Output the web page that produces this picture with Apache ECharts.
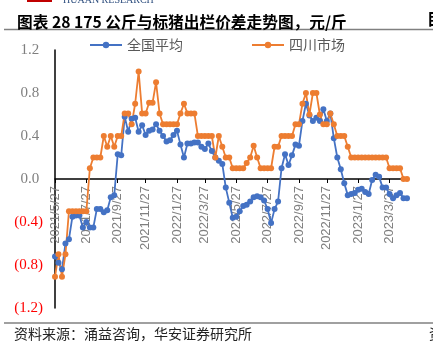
<!DOCTYPE html>
<html>
<head>
<meta charset="utf-8">
<script src="https://cdn.jsdelivr.net/npm/echarts@6/dist/echarts.min.js"></script>
<style>
  html, body { margin: 0; padding: 0; background: #fff; }
  #main { width: 433px; height: 352px; }
</style>
</head>
<body>
<div id="main"></div>
<script>
// 起始日期（周度数据）
var startDate = [2021, 4, 27];
// x轴刻度标签
var tickDates = ['2021/5/27', '2021/7/27', '2021/9/27', '2021/11/27', '2022/1/27', '2022/3/27',
  '2022/5/27', '2022/7/27', '2022/9/27', '2022/11/27', '2023/1/27', '2023/3/27'];
// 全国平均
var nationalAvg = [
  -0.72, -0.78, -0.84, -0.60, -0.56, -0.35, -0.34, -0.34, -0.45, -0.40,
  -0.45, -0.45, -0.28, -0.28, -0.31, -0.29, -0.17, -0.15, 0.23, 0.22,
  0.58, 0.44, 0.56, 0.57, 0.44, 0.50, 0.41, 0.45, 0.46, 0.51,
  0.45, 0.40, 0.35, 0.36, 0.41, 0.45, 0.32, 0.20, 0.33, 0.33,
  0.34, 0.34, 0.30, 0.28, 0.33, 0.26, 0.20, 0.17, 0.14, -0.08,
  -0.22, -0.36, -0.35, -0.30, -0.25, -0.24, -0.21, -0.17, -0.16, -0.17,
  -0.20, -0.28, -0.41, -0.28, -0.21, 0.10, 0.23, 0.13, 0.22, 0.32,
  0.31, 0.54, 0.70, 0.59, 0.54, 0.57, 0.54, 0.65, 0.54, 0.61,
  0.38, 0.20, 0.09, -0.04, -0.15, -0.14, -0.13, -0.10, -0.09, -0.12,
  -0.14, -0.01, 0.04, 0.02, -0.08, -0.08, -0.14, -0.18, -0.15, -0.13,
  -0.18, -0.18
];
// 四川市场
var sichuan = [
  -0.91, -0.70, -0.91, -0.70, -0.30, -0.30, -0.30, -0.30, -0.30, -0.30,
  0.10, 0.20, 0.20, 0.20, 0.40, 0.30, 0.40, 0.30, 0.40, 0.40,
  0.61, 0.61, 0.51, 0.70, 1.00, 0.61, 0.61, 0.71, 0.71, 0.90,
  0.61, 0.51, 0.51, 0.51, 0.51, 0.51, 0.61, 0.70, 0.61, 0.61,
  0.61, 0.40, 0.40, 0.40, 0.40, 0.40, 0.20, 0.40, 0.30, 0.20,
  0.20, 0.10, 0.10, 0.10, 0.10, 0.15, 0.20, 0.31, 0.20, 0.10,
  0.10, 0.10, 0.10, 0.30, 0.30, 0.40, 0.40, 0.40, 0.40, 0.51,
  0.51, 0.70, 0.80, 0.60, 0.80, 0.80, 0.60, 0.51, 0.51, 0.61,
  0.51, 0.40, 0.40, 0.40, 0.30, 0.20, 0.20, 0.20, 0.20, 0.20,
  0.20, 0.20, 0.20, 0.20, 0.20, 0.20, 0.10, 0.10, 0.10, 0.10,
  0.00, 0.00
];

// 周度类目 + 刻度所在周
var DAY = 86400000;
var t0 = new Date(startDate[0], startDate[1], startDate[2]).getTime();
var weeks = [];
for (var i = 0; i < nationalAvg.length; i++) {
  weeks.push(String(i));
}
var tickText = {};
tickDates.forEach(function (s) {
  var p = s.split('/');
  var d = (new Date(+p[0], +p[1] - 1, +p[2]).getTime() - t0) / DAY;
  tickText[Math.round(d / 7)] = s;
});
var isTick = function (index) { return tickText[index] !== undefined; };

var chart = echarts.init(document.getElementById('main'));

var option = {
  animation: false,
  color: ['#4472C4', '#ED7D31'],
  title: {
    text: '图表 28 175 公斤与标猪出栏价差走势图，元/斤',
    left: 12, top: 9,
    textStyle: { fontFamily: 'Noto Sans CJK SC', fontSize: 15.7, fontWeight: 'bold', color: '#000' }
  },
  legend: {
    left: 84, top: 33,
    itemWidth: 32, itemHeight: 8, itemGap: 68,
    textStyle: { fontFamily: 'Noto Sans CJK SC', fontSize: 14, color: '#595959' },
    data: ['全国平均', '四川市场']
  },
  grid: { left: 55, right: 26, top: 50, bottom: 44, outerBoundsMode: 'none', containLabel: false },
  xAxis: {
    type: 'category',
    data: weeks,
    boundaryGap: false,
    axisLine: { show: true, onZero: true, lineStyle: { color: '#000', width: 1.5 } },
    axisTick: { show: true, length: 4, interval: isTick, lineStyle: { color: '#000' } },
    splitLine: { show: false },
    axisLabel: {
      interval: isTick,
      rotate: 90,
      // 标签默认贴在网格底部，这里上移到零轴下方
      margin: -122,
      fontFamily: 'Liberation Sans',
      fontSize: 13,
      color: '#7f7f7f',
      formatter: function (val) { return tickText[+val] || ''; }
    }
  },
  yAxis: {
    type: 'value',
    min: -1.2, max: 1.2, interval: 0.4,
    axisLine: { show: true, lineStyle: { color: '#000', width: 1.5 } },
    axisTick: { show: false },
    splitLine: { show: false },
    axisLabel: {
      margin: 12,
      fontFamily: 'Liberation Serif',
      fontSize: 15,
      color: function (v) { return v < 0 ? '#FF0000' : '#7f7f7f'; },
      formatter: function (v) {
        var s = Math.abs(v).toFixed(1);
        return v < -1e-9 ? '(' + s + ')' : s + ' ';
      }
    }
  },
  graphic: [
    { type: 'rect', shape: { x: 27, y: 0, width: 25, height: 2 }, style: { fill: '#C00000' } },
    { type: 'text', x: 63, y: -5, style: { text: 'HUAAN RESEARCH', font: '10px "Liberation Serif"', fill: '#2F4F7F' } },
    { type: 'line', shape: { x1: 4, y1: 29.5, x2: 433, y2: 29.5 }, style: { stroke: '#808080', lineWidth: 1.5 } },
    { type: 'text', x: 427, y: 11, style: { text: '目', font: 'bold 16px "Noto Sans CJK SC"', fill: '#000' } },
    { type: 'line', shape: { x1: 4, y1: 323, x2: 433, y2: 323 }, style: { stroke: '#808080', lineWidth: 1.5 } },
    { type: 'text', x: 14, y: 327, style: { text: '资料来源：涌益咨询，华安证券研究所', font: '14px "Noto Sans CJK SC"', fill: '#222' } },
    { type: 'text', x: 429, y: 327, style: { text: '资', font: '14px "Noto Sans CJK SC"', fill: '#222' } }
  ],
  series: [
    {
      name: '全国平均',
      type: 'line',
      data: nationalAvg,
      symbol: 'circle', symbolSize: 6, showAllSymbol: true,
      lineStyle: { width: 1.8 }
    },
    {
      name: '四川市场',
      type: 'line',
      data: sichuan,
      symbol: 'circle', symbolSize: 6, showAllSymbol: true,
      lineStyle: { width: 1.8 }
    }
  ]
};
chart.setOption(option);
</script>
</body>
</html>
